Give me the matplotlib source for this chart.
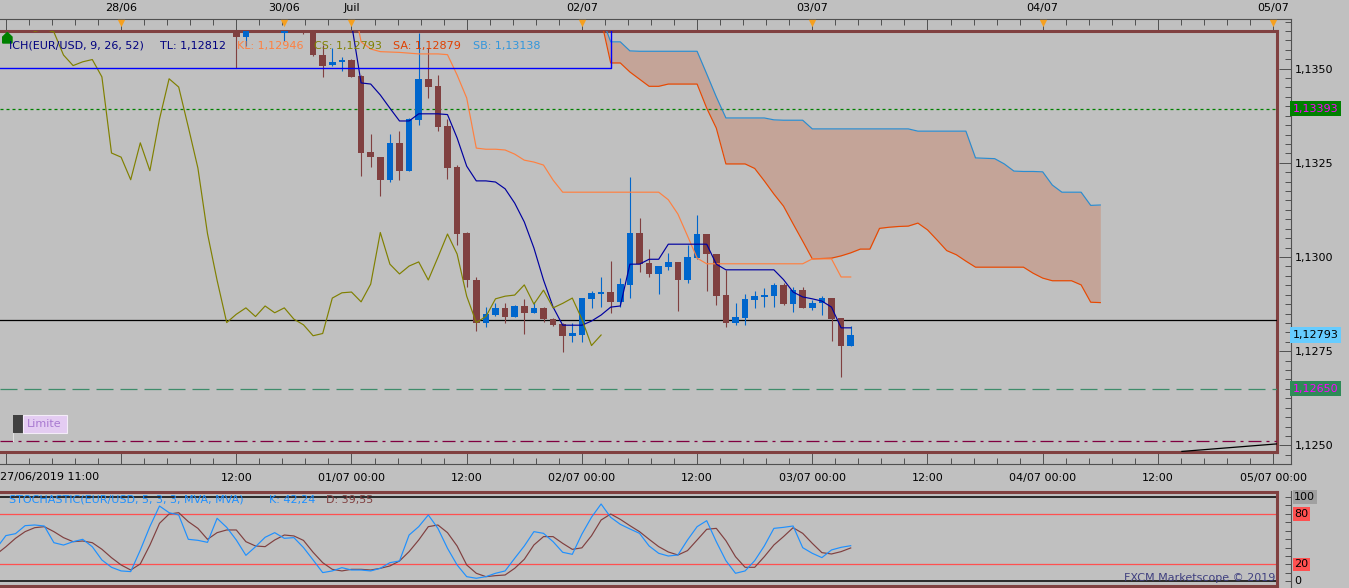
import numpy as np
import matplotlib
matplotlib.use("Agg")
import matplotlib.pyplot as plt
from matplotlib.transforms import blended_transform_factory
from matplotlib.patches import Polygon, Rectangle
from matplotlib.ticker import MultipleLocator, FuncFormatter

plt.rcParams['font.family'] = ['DejaVu Sans']

# Layout / colours
W, H = 1349, 588
BG = "#C0C0C0"
FRAME = "#804040"
AXC = "#505050"
BULL = "#0066CC"
BEAR = "#804040"
FS = 8.0

# ---------------- data (x = hourly bar index, 0 = 01/07 00:00, weekend gap removed)
first_bar = -12
opens = [
    1.13640, 1.13583, 1.13615, 1.13625, 1.13620, 1.13594, 1.13610, 1.13603, 1.13608, 1.13535,
    1.13509, 1.13517, 1.13523, 1.13480, 1.13279, 1.13265, 1.13205, 1.13303, 1.13229, 1.13364,
    1.13472, 1.13454, 1.13348, 1.13239, 1.13064, 1.12939, 1.12826, 1.12846, 1.12865, 1.12842,
    1.12870, 1.12852, 1.12865, 1.12835, 1.12822, 1.12791, 1.12793, 1.12889, 1.12903, 1.12907,
    1.12881, 1.12927, 1.13065, 1.12983, 1.12955, 1.12974, 1.12987, 1.12939, 1.12997, 1.13061,
    1.13008, 1.12899, 1.12826, 1.12839, 1.12886, 1.12895, 1.12896, 1.12926, 1.12875, 1.12912,
    1.12865, 1.12877, 1.12892, 1.12839, 1.12765,
]
highs = [
    1.13660, 1.13625, 1.13640, 1.13650, 1.13640, 1.13620, 1.13630, 1.13612, 1.13615, 1.13563,
    1.13555, 1.13530, 1.13525, 1.13482, 1.13326, 1.13266, 1.13326, 1.13335, 1.13368, 1.13595,
    1.13555, 1.13484, 1.13367, 1.13245, 1.13066, 1.12946, 1.12868, 1.12877, 1.12879, 1.12873,
    1.12889, 1.12881, 1.12866, 1.12837, 1.12824, 1.12824, 1.12891, 1.12911, 1.12948, 1.12990,
    1.12944, 1.13213, 1.13103, 1.13021, 1.12976, 1.13011, 1.12987, 1.13032, 1.13111, 1.13061,
    1.13008, 1.12966, 1.12877, 1.12902, 1.12911, 1.12917, 1.12930, 1.12930, 1.12920, 1.12920,
    1.12886, 1.12897, 1.12892, 1.12839, 1.12817,
]
lows = [
    1.13502, 1.13559, 1.13605, 1.13610, 1.13608, 1.13574, 1.13603, 1.13592, 1.13534, 1.13477,
    1.13507, 1.13493, 1.13478, 1.13214, 1.13238, 1.13161, 1.13198, 1.13205, 1.13227, 1.13351,
    1.13422, 1.13335, 1.13208, 1.13033, 1.12920, 1.12804, 1.12815, 1.12844, 1.12826, 1.12840,
    1.12796, 1.12852, 1.12828, 1.12818, 1.12749, 1.12775, 1.12775, 1.12865, 1.12868, 1.12852,
    1.12868, 1.12890, 1.12961, 1.12948, 1.12902, 1.12966, 1.12857, 1.12932, 1.12996, 1.12911,
    1.12873, 1.12815, 1.12820, 1.12820, 1.12864, 1.12868, 1.12866, 1.12873, 1.12855, 1.12864,
    1.12859, 1.12846, 1.12778, 1.12681, 1.12765,
]
closes = [
    1.13583, 1.13610, 1.13625, 1.13620, 1.13615, 1.13599, 1.13605, 1.13597, 1.13536, 1.13508,
    1.13518, 1.13524, 1.13478, 1.13276, 1.13265, 1.13205, 1.13303, 1.13229, 1.13366, 1.13473,
    1.13451, 1.13345, 1.13236, 1.13062, 1.12938, 1.12826, 1.12848, 1.12865, 1.12842, 1.12870,
    1.12852, 1.12865, 1.12835, 1.12820, 1.12791, 1.12797, 1.12891, 1.12905, 1.12907, 1.12881,
    1.12928, 1.13065, 1.12981, 1.12955, 1.12976, 1.12987, 1.12939, 1.12999, 1.13061, 1.13008,
    1.12896, 1.12826, 1.12842, 1.12889, 1.12896, 1.12899, 1.12926, 1.12875, 1.12912, 1.12865,
    1.12877, 1.12891, 1.12835, 1.12765, 1.12793,
]

# Ichimoku (9, 26, 52)
tenkan_start = 0
tenkan = [
    1.13620, 1.13462, 1.13459, 1.13430, 1.13395, 1.13361, 1.13361, 1.13380, 1.13380, 1.13380,
    1.13378, 1.13316, 1.13241, 1.13202, 1.13202, 1.13199, 1.13181, 1.13143, 1.13093, 1.13024,
    1.12939, 1.12867, 1.12819, 1.12819, 1.12819, 1.12830, 1.12846, 1.12867, 1.12870, 1.12981,
    1.12981, 1.12994, 1.12994, 1.13034, 1.13034, 1.13034, 1.13034, 1.13034, 1.12981, 1.12966,
    1.12966, 1.12966, 1.12966, 1.12966, 1.12966, 1.12940, 1.12907, 1.12894, 1.12889, 1.12883,
    1.12867, 1.12812, 1.12812,
]
kijun = [
    1.13700, 1.13571, 1.13552, 1.13545, 1.13544, 1.13543, 1.13541, 1.13539, 1.13539, 1.13539,
    1.13537, 1.13483, 1.13422, 1.13289, 1.13286, 1.13286, 1.13284, 1.13273, 1.13257, 1.13252,
    1.13244, 1.13204, 1.13172, 1.13172, 1.13172, 1.13172, 1.13172, 1.13172, 1.13172, 1.13172,
    1.13172, 1.13172, 1.13172, 1.13152, 1.13114, 1.13056, 1.12997, 1.12982, 1.12982, 1.12982,
    1.12982, 1.12982, 1.12982, 1.12982, 1.12982, 1.12982, 1.12982, 1.12982, 1.12995, 1.12995,
    1.12995, 1.12947, 1.12947,
]
senkou_start = 26
senkou_a = [
    1.13630, 1.13515, 1.13515, 1.13491, 1.13472, 1.13453, 1.13453, 1.13459, 1.13459, 1.13459,
    1.13459, 1.13395, 1.13342, 1.13247, 1.13247, 1.13247, 1.13235, 1.13202, 1.13167, 1.13135,
    1.13088, 1.13042, 1.12995, 1.12996, 1.12997, 1.13003, 1.13011, 1.13021, 1.13021, 1.13076,
    1.13079, 1.13081, 1.13082, 1.13090, 1.13072, 1.13045, 1.13017, 1.13006, 1.12989, 1.12973,
    1.12973, 1.12973, 1.12973, 1.12973, 1.12973, 1.12957, 1.12944, 1.12937, 1.12937, 1.12937,
    1.12926, 1.12880, 1.12879,
]
senkou_b = [
    1.13640, 1.13571, 1.13571, 1.13547, 1.13546, 1.13546, 1.13546, 1.13546, 1.13546, 1.13546,
    1.13546, 1.13486, 1.13425, 1.13369, 1.13369, 1.13369, 1.13369, 1.13369, 1.13364, 1.13363,
    1.13363, 1.13363, 1.13340, 1.13340, 1.13340, 1.13340, 1.13340, 1.13340, 1.13340, 1.13340,
    1.13340, 1.13340, 1.13340, 1.13334, 1.13334, 1.13334, 1.13334, 1.13334, 1.13334, 1.13263,
    1.13262, 1.13261, 1.13247, 1.13228, 1.13227, 1.13227, 1.13226, 1.13191, 1.13172, 1.13172,
    1.13172, 1.13137, 1.13138,
]
chikou_shift = 26

# Stochastic (5, 3, 3)
stoch_start = -37
stoch_k = [
    39.0,
    54.2, 56.5, 66.0, 66.8, 65.6, 45.8, 43.0, 47.0, 49.8, 41.0,
    25.3, 16.6, 12.3, 11.5, 37.0, 65.0, 89.3, 81.4, 78.7, 49.8,
    48.6, 46.2, 74.7, 64.0, 49.0, 30.8, 41.0, 52.2, 57.7, 51.0,
    51.8, 40.0, 25.3, 10.3, 12.3, 16.2, 13.4, 13.4, 12.3, 15.4,
    22.1, 24.1, 54.9, 64.8, 78.7, 62.8, 39.1, 19.4, 5.5, 3.6,
    5.5, 9.5, 12.3, 27.3, 41.9, 58.9, 56.9, 47.0, 34.4, 32.0,
    56.0, 76.0, 91.7, 75.9, 67.6, 62.1, 56.9, 41.9, 33.2, 30.0,
    31.2, 49.0, 64.8, 71.9, 47.0, 24.5, 9.5, 12.3, 24.5, 41.9,
    62.8, 64.0, 65.6, 39.9, 33.2, 28.1, 37.2, 40.3, 42.24,
]
stoch_d = [
    32.0,
    41.0, 51.0, 58.9, 63.6, 64.8, 58.9, 51.8, 47.0, 47.8, 45.8,
    38.0, 28.0, 19.4, 13.4, 20.6, 43.0, 68.8, 79.8, 81.4, 70.8,
    62.8, 49.8, 57.7, 60.9, 60.9, 47.0, 41.9, 41.1, 49.0, 54.9,
    53.8, 48.5, 34.4, 22.1, 14.2, 12.3, 14.2, 14.2, 13.4, 15.4,
    18.2, 24.1, 35.2, 49.0, 64.8, 66.8, 57.7, 41.9, 19.4, 9.5,
    5.5, 6.7, 7.5, 15.4, 26.1, 43.1, 53.0, 53.0, 45.0, 37.9,
    39.7, 54.0, 72.7, 79.8, 73.5, 66.0, 58.9, 49.8, 41.1, 34.8,
    31.2, 36.4, 49.0, 61.7, 62.8, 48.2, 29.2, 16.6, 16.6, 29.2,
    43.1, 53.0, 63.6, 56.9, 45.0, 34.0, 32.4, 35.2, 39.55,
]

# drawn objects / levels
level_stop = 1.13393
level_line = 1.12832
level_limit = 1.12650
level_order = 1.12511
last_price = 1.12793
box_right = 27
box_bottom = 1.13502
box_top = 1.13700
trend_x = [86.5, 96.4]
trend_y = [1.12484, 1.12504]

day_marks = [-24, -7, 0, 24, 48, 72, 96]
day_names = ["28/06", "30/06", "Juil", "02/07", "03/07", "04/07", "05/07"]
tick_pos = list(range(-36, 97, 12))
tick_names = ["", "", "12:00", "01/07 00:00", "12:00", "02/07 00:00", "12:00",
              "03/07 00:00", "12:00", "04/07 00:00", "12:00", "05/07 00:00"]


# pixel -> data helpers (for layout only)
def hx(px):
    return (px - 351.5) / 9.6


def pr(py):
    return 1.1350 - (py - 68.6) / 37680


def st(py):
    return (581.3 - py) / 0.843


def box(x0, y0, x1, y1):
    return [x0 / W, 1 - y1 / H, (x1 - x0) / W, (y1 - y0) / H]


def ptext(x, y, s, color, ha="left", size=FS, **kw):
    fig.text(x / W, 1 - y / H, s, color=color, ha=ha, va="center",
             fontsize=size, zorder=10, **kw)


def prect(x0, y0, x1, y1, **kw):
    fig.add_artist(Rectangle((x0 / W, 1 - y1 / H), (x1 - x0) / W, (y1 - y0) / H,
                             transform=fig.transFigure, zorder=9, **kw))


fig = plt.figure(figsize=(W / 100, H / 100), dpi=100, facecolor=BG)

# ---------------- outer price scale
axo = fig.add_axes(box(0, 19, 1291, 464), facecolor="none", zorder=0)
axo.set_xlim(hx(0), hx(1291))
axo.set_ylim(pr(464), pr(19))
axo.spines["left"].set_visible(False)
for s in ["top", "right", "bottom"]:
    axo.spines[s].set_color(AXC)
    axo.spines[s].set_linewidth(0.8)
axo.yaxis.tick_right()
axo.yaxis.set_major_locator(MultipleLocator(0.0025))
axo.yaxis.set_minor_locator(MultipleLocator(0.00025))
axo.yaxis.set_major_formatter(FuncFormatter(lambda v, p: f"{v:.4f}".replace(".", ",")))
axo.set_xticks(tick_pos)
axo.set_xticklabels(tick_names)
axo.xaxis.set_minor_locator(MultipleLocator(2.4))
axo.tick_params(axis="both", which="major", direction="in", length=8.5, width=0.7,
                color=AXC, labelsize=FS, top=True, bottom=True)
axo.tick_params(axis="both", which="minor", direction="in", length=4, width=0.7,
                color=AXC, top=True, bottom=True)
axo.tick_params(axis="x", pad=6.5)
axo.tick_params(axis="y", pad=3)

topt = blended_transform_factory(axo.transData, axo.transAxes)
for h, name in zip(day_marks, day_names):
    axo.text(h, (464 - 8) / 445, name, transform=topt, ha="center", va="center",
             fontsize=FS, color="black", clip_on=False)
axo.scatter(day_marks, [(464 - 22.5) / 445] * len(day_marks), transform=topt,
            marker="v", s=28, color="#F5A020", linewidths=0, clip_on=False, zorder=5)

# right-hand price boxes
rt = blended_transform_factory(axo.transAxes, axo.transData)
for val, fc, tc in [(level_stop, "#008000", "#FF00FF"),
                    (last_price, "#66CCFF", "black"),
                    (level_limit, "#2E8B57", "#FF00FF")]:
    axo.text(1.0015, val, f"{val:.5f}".replace(".", ","), transform=rt, ha="left",
             va="center", fontsize=FS, color=tc, clip_on=False, zorder=6,
             bbox=dict(facecolor=fc, edgecolor="none", pad=1.8))

# ---------------- main price panel
ax = fig.add_axes(box(0, 31, 1277, 452), facecolor=BG, zorder=2)
ax.set_xlim(hx(0), hx(1277))
ax.set_ylim(pr(452), pr(31))
ax.set_xticks([])
ax.set_yticks([])
ax.spines["left"].set_visible(False)
for s in ["top", "right", "bottom"]:
    ax.spines[s].set_color(FRAME)
    ax.spines[s].set_linewidth(2.2)

# cloud
sx = np.arange(senkou_start, senkou_start + len(senkou_a))
sa = np.array(senkou_a)
sb = np.array(senkou_b)
ax.fill_between(sx, sa, sb, where=sb >= sa, color="#C4A498", lw=0, interpolate=True, zorder=1)
ax.fill_between(sx, sa, sb, where=sb < sa, color="#A8C4A0", lw=0, interpolate=True, zorder=1)

# candles
bars = np.arange(first_bar, first_bar + len(opens))
o, hi, lo, c = map(np.array, (opens, highs, lows, closes))
cols = np.where(c >= o, BULL, BEAR)
ax.vlines(bars, lo, hi, colors=cols, lw=0.8, zorder=4)
ax.bar(bars, np.maximum(np.abs(c - o), 0.00003), bottom=np.minimum(o, c), width=0.68,
       color=cols, lw=0, zorder=5)

# ichimoku lines
tx = np.arange(tenkan_start, tenkan_start + len(tenkan))
ax.plot(sx, sa, color="#E84800", lw=0.85, zorder=6)
ax.plot(sx, sb, color="#2A8CD0", lw=0.85, zorder=6)
ax.plot(tx, kijun, color="#FF8040", lw=0.85, zorder=6)
ax.plot(tx, tenkan, color="#0000A0", lw=0.85, zorder=7)
ax.plot(bars - chikou_shift, c, color="#808000", lw=0.85, zorder=7)

# levels and drawings
ax.axhline(level_stop, color="#008000", lw=0.9, ls=(0, (2.4, 2.4)), zorder=3)
ax.axhline(level_line, color="black", lw=0.9, zorder=3)
ax.axhline(level_limit, color="#3E8C6A", lw=0.9, ls=(0, (13.6, 5.6)), zorder=3)
ax.axhline(level_order, color="#800040", lw=0.9, ls=(0, (10.4, 4, 2.4, 4)), zorder=3)
ax.plot([hx(-50), box_right, box_right], [box_bottom, box_bottom, box_top],
        color="#0000FF", lw=1.0, zorder=8)
ax.plot(trend_x, trend_y, color="black", lw=0.9, zorder=8)

# ---------------- stochastic panel
axso = fig.add_axes(box(0, 491, 1291, 588), facecolor="none", zorder=0)
axso.set_xlim(hx(0), hx(1291))
axso.set_ylim(st(588), st(491))
for s in ["left", "top", "bottom"]:
    axso.spines[s].set_visible(False)
axso.spines["right"].set_color(AXC)
axso.spines["right"].set_linewidth(0.8)
axso.set_xticks([])
axso.yaxis.tick_right()
axso.set_yticks([0, 100])
axso.yaxis.set_minor_locator(MultipleLocator(10))
axso.tick_params(axis="y", which="both", direction="in", length=4, width=0.7,
                 color=AXC, labelright=False)
srt = blended_transform_factory(axso.transAxes, axso.transData)
for val, fc in [(100, "#A0A0A0"), (80, "#FF5050"), (20, "#FF5050"), (0, "none")]:
    axso.text(1.0025, val, str(val), transform=srt, ha="left", va="center",
              fontsize=FS, color="black", clip_on=False,
              bbox=dict(facecolor=fc, edgecolor="none", pad=1.2))

axs = fig.add_axes(box(0, 492, 1277, 586), facecolor=BG, zorder=2)
axs.set_xlim(hx(0), hx(1277))
axs.set_ylim(st(586), st(492))
axs.set_xticks([])
axs.set_yticks([])
axs.spines["left"].set_visible(False)
for s in ["top", "right", "bottom"]:
    axs.spines[s].set_color(FRAME)
    axs.spines[s].set_linewidth(2.2)
axs.axhline(100, color="black", lw=1.1)
axs.axhline(0, color="black", lw=1.1)
axs.axhline(80, color="#FF5050", lw=0.9)
axs.axhline(20, color="#FF5050", lw=0.9)
kx = np.arange(stoch_start, stoch_start + len(stoch_k))
axs.plot(kx, stoch_d, color="#804040", lw=0.85)
axs.plot(kx, stoch_k, color="#1E90FF", lw=0.85)

# ---------------- texts and markers
ptext(9, 46, "ICH(EUR/USD, 9, 26, 52)", "#000080")
ptext(160, 46, "TL: 1,12812", "#000080")
ptext(237, 46, "KL: 1,12946", "#FF8040")
ptext(314, 46, "CS: 1,12793", "#808000")
ptext(393, 46, "SA: 1,12879", "#E04000")
ptext(473, 46, "SB: 1,13138", "#3296DC")
ptext(9, 500, "STOCHASTIC(EUR/USD, 5, 3, 3, MVA, MVA)", "#1E90FF")
ptext(269, 500, "K: 42,24", "#1E90FF")
ptext(326, 500, "D: 39,55", "#804040")
ptext(1275, 578, "FXCM Marketscope © 2019", "#404080", ha="right")
ptext(0, 477, "27/06/2019 11:00", "black")

fig.add_artist(Polygon([(2.7 / W, 1 - 43 / H), (2.7 / W, 1 - 37 / H), (7.3 / W, 1 - 32.5 / H),
                        (12 / W, 1 - 37 / H), (12 / W, 1 - 43 / H)],
                       closed=True, transform=fig.transFigure, color="#008000", zorder=9))
prect(12.7, 415, 22.7, 433, facecolor="#404040", edgecolor="none")
prect(22.7, 415, 66.7, 433, facecolor="#E4CCF2", edgecolor="#F4ECF8", lw=0.8)
ptext(27, 424, "Limite", "#A878D0")
fig.add_artist(plt.Line2D([12.7 / W, 12.7 / W], [1 - 433 / H, 1 - 441 / H],
                          transform=fig.transFigure, color="#E0E0E0", lw=0.8, zorder=9))

fig.savefig("out.png", dpi=100, facecolor=BG)
